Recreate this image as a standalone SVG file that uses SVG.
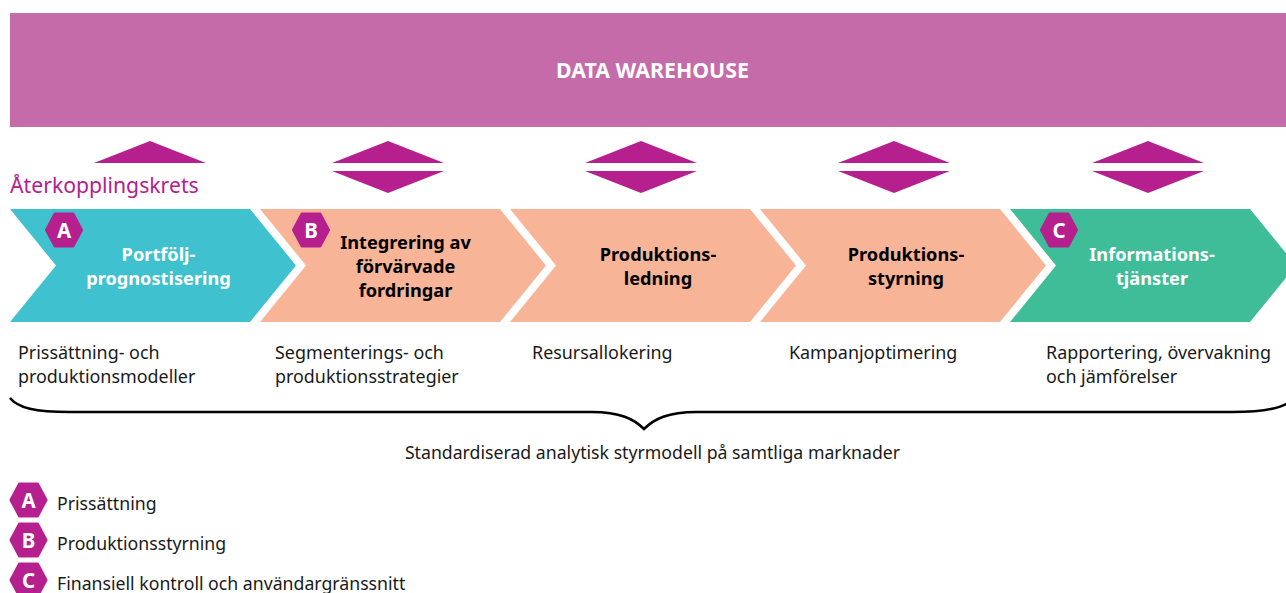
<svg xmlns="http://www.w3.org/2000/svg" width="1286" height="593" viewBox="0 0 1286 593">
  <defs>
    <style>
      text { font-family: "Noto Sans", "Open Sans", "DejaVu Sans", sans-serif; }
      .title { font-size: 18.2px; font-weight: 700; text-anchor: middle; }
      .light { fill: #ffffff; }
      .dark { fill: #000000; }
      .desc { font-size: 17.9px; fill: #1a1a1a; }
      .badge { fill: #b5208e; stroke: #b5208e; stroke-width: 3; stroke-linejoin: round; }
      .badge-letter { font-size: 20.5px; font-weight: 700; fill: #ffffff; text-anchor: middle; }
      .tri { fill: #b5208e; }
      .legend { font-size: 17.7px; fill: #1a1a1a; }
    </style>
    <!-- hexagon badge, centred on the origin -->
    <polygon id="hex" class="badge" points="-17.5,0 -9,-16 9,-16 17.5,0 9,16 -9,16"/>
    <!-- chevron step shape, origin at its top-left corner -->
    <polygon id="chev" points="0,0 240,0 286,56.5 240,113 0,113 46,56.5"/>
  </defs>

  <!-- warehouse band -->
  <g id="data-warehouse">
    <rect x="10" y="13" width="1276" height="114" fill="#c56baa"/>
    <text x="652.5" y="78" font-size="21.3" font-weight="700" fill="#ffffff" text-anchor="middle">DATA WAREHOUSE</text>
  </g>

  <!-- feedback arrows between warehouse and process steps -->
  <g id="connectors">
    <polygon class="tri" points="150,141 206,163 94,163"/>
    <polygon class="tri" points="388,141 444,163 332,163"/>
    <polygon class="tri" points="332,171 444,171 388,193"/>
    <polygon class="tri" points="641,141 697,163 585,163"/>
    <polygon class="tri" points="585,171 697,171 641,193"/>
    <polygon class="tri" points="894,141 950,163 838,163"/>
    <polygon class="tri" points="838,171 950,171 894,193"/>
    <polygon class="tri" points="1148,141 1204,163 1092,163"/>
    <polygon class="tri" points="1092,171 1204,171 1148,193"/>
  </g>

  <g id="feedback-label">
    <text x="10" y="193" font-size="21.2" fill="#b5208e">Återkopplingskrets</text>
  </g>

  <!-- process steps -->
  <g id="step-portfolio">
    <use href="#chev" x="10" y="209" fill="#40c1cf"/>
    <use href="#hex" x="64" y="230"/>
    <text class="badge-letter" x="64" y="237.5">A</text>
    <text class="title light" x="158.5" y="261">Portfölj-</text>
    <text class="title light" x="158.5" y="285">prognostisering</text>
    <text class="desc" x="18" y="359">Prissättning- och</text>
    <text class="desc" x="18" y="383">produktionsmodeller</text>
  </g>

  <g id="step-integration">
    <use href="#chev" x="260" y="209" fill="#f8b496"/>
    <use href="#hex" x="311" y="230"/>
    <text class="badge-letter" x="311" y="237.5">B</text>
    <text class="title dark" x="405.5" y="249">Integrering av</text>
    <text class="title dark" x="405.5" y="273">förvärvade</text>
    <text class="title dark" x="405.5" y="297">fordringar</text>
    <text class="desc" x="275" y="359">Segmenterings- och</text>
    <text class="desc" x="275" y="383">produktionsstrategier</text>
  </g>

  <g id="step-production-management">
    <use href="#chev" x="510" y="209" fill="#f8b496"/>
    <text class="title dark" x="658" y="261">Produktions-</text>
    <text class="title dark" x="658" y="285">ledning</text>
    <text class="desc" x="532" y="359">Resursallokering</text>
  </g>

  <g id="step-production-control">
    <use href="#chev" x="760" y="209" fill="#f8b496"/>
    <text class="title dark" x="906" y="261">Produktions-</text>
    <text class="title dark" x="906" y="285">styrning</text>
    <text class="desc" x="789" y="359">Kampanjoptimering</text>
  </g>

  <g id="step-information">
    <use href="#chev" x="1010" y="209" fill="#3fbd98"/>
    <use href="#hex" x="1059" y="230"/>
    <text class="badge-letter" x="1059" y="237.5">C</text>
    <text class="title light" x="1152" y="261">Informations-</text>
    <text class="title light" x="1152" y="285">tjänster</text>
    <text class="desc" x="1046" y="359">Rapportering, övervakning</text>
    <text class="desc" x="1046" y="383">och jämförelser</text>
  </g>

  <!-- brace spanning all steps -->
  <g id="brace">
    <path d="M 10 398 C 18 408 35 412 70 412 L 592 412 C 620 412 634 419 644 429 C 654 419 668 412 696 412 L 1232 412 C 1262 412 1278 409 1288 403" fill="none" stroke="#000" stroke-width="2.6"/>
    <text x="652.5" y="459" font-size="17.7" fill="#1a1a1a" text-anchor="middle">Standardiserad analytisk styrmodell på samtliga marknader</text>
  </g>

  <!-- legend -->
  <g id="legend">
    <use href="#hex" x="28.5" y="500"/>
    <text class="badge-letter" x="28.5" y="507.5">A</text>
    <text class="legend" x="57" y="510">Prissättning</text>
    <use href="#hex" x="28.5" y="540"/>
    <text class="badge-letter" x="28.5" y="547.5">B</text>
    <text class="legend" x="57" y="550">Produktionsstyrning</text>
    <use href="#hex" x="28.5" y="580"/>
    <text class="badge-letter" x="28.5" y="587.5">C</text>
    <text class="legend" x="57" y="590">Finansiell kontroll och användargränssnitt</text>
  </g>
</svg>
